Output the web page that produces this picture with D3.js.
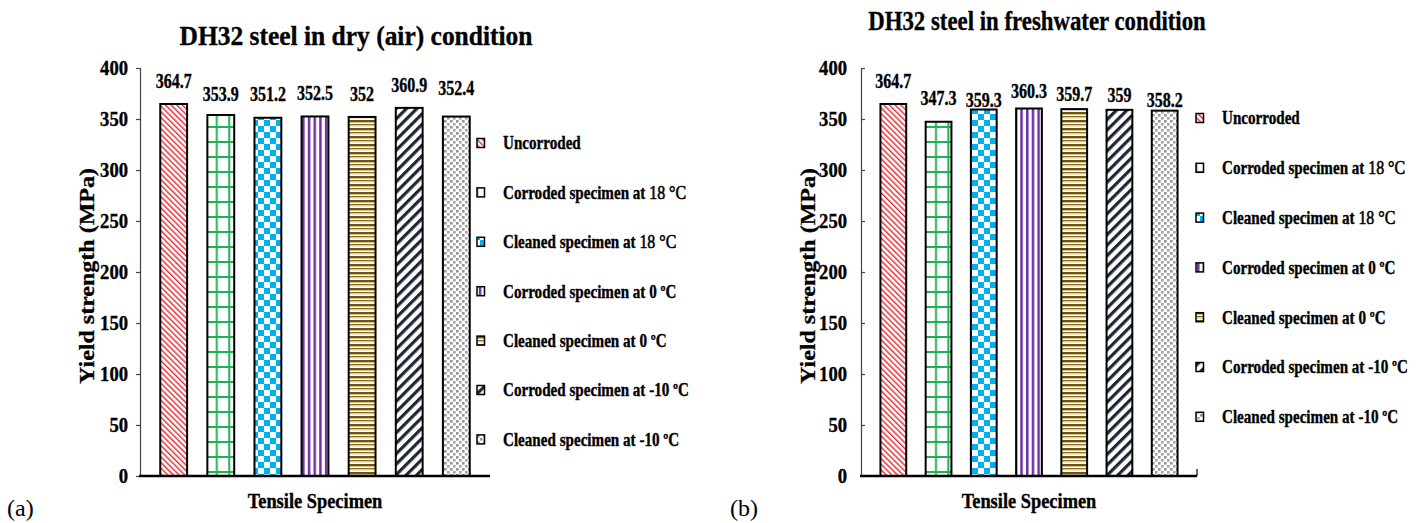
<!DOCTYPE html>
<html>
<head>
<meta charset="utf-8">
<script src="https://cdn.jsdelivr.net/npm/d3@7/dist/d3.min.js"></script>
<style>
  html, body { margin: 0; padding: 0; background: #fff; }
  svg { display: block; }
  text { font-family: "Liberation Serif", "Times New Roman", serif; fill: #000; }
  text.heavy { stroke: #000; stroke-width: 0.35px; }
</style>
</head>
<body>
<svg id="chart" width="1418" height="523"></svg>
<script>
// ---- data ----
const categories = [
  "Uncorroded",
  "Corroded specimen at 18 °C",
  "Cleaned specimen at 18 °C",
  "Corroded specimen at 0 ºC",
  "Cleaned specimen at 0 ºC",
  "Corroded specimen at -10 ºC",
  "Cleaned specimen at -10 ºC"
];
const dryValues   = [364.7, 353.9, 351.2, 352.5, 352, 360.9, 352.4];
const freshValues = [364.7, 347.3, 359.3, 360.3, 359.7, 359, 358.2];
const yTicks = [0, 50, 100, 150, 200, 250, 300, 350, 400];
const panelTitles = ["DH32 steel in dry (air) condition", "DH32 steel in freshwater condition"];
const panelTags = ["(a)", "(b)"];
const yAxisTitle = "Yield strength (MPa)";
const xAxisTitle = "Tensile Specimen";

// ---- layout of the two panels ----
const panels = [
  { values: dryValues, title: panelTitles[0], tag: panelTags[0],
    x0: 140, x1: 490, yBase: 476, yTop: 68,
    titleX: 356, titleY: 45, titleSx: 0.91, tickLabelX: 128, tickDir: 1, yTitleX: 94,
    legMarkX: 477, legTextX: 503, legY0: 143, legStep: 49.4,
    xTitleX: 315, tagX: 7, endTick: false,
    labelLift: [16, 14, 17, 16, 16, 16, 22] },
  { values: freshValues, title: panelTitles[1], tag: panelTags[1],
    x0: 861, x1: 1197, yBase: 476, yTop: 68,
    titleX: 1037, titleY: 30, titleSx: 0.815, tickLabelX: 847, tickDir: -1, yTitleX: 815,
    legMarkX: 1196, legTextX: 1222, legY0: 118, legStep: 49.8,
    xTitleX: 1029, tagX: 730, endTick: true,
    labelLift: [16, 17, 3, 10, 8, 8, 4] }
];

const svg = d3.select("#chart");
svg.append("rect").attr("width", 1418).attr("height", 523).attr("fill", "#fff");

// ---- fill patterns, one per specimen type ----
const defs = svg.append("defs");
function pat(id, w, h, transform) {
  const p = defs.append("pattern").attr("id", id)
    .attr("patternUnits", "userSpaceOnUse").attr("width", w).attr("height", h);
  if (transform) p.attr("patternTransform", transform);
  p.append("rect").attr("width", w).attr("height", h).attr("fill", "#fff");
  return p;
}
// red thin diagonals
let p = pat("p0", 8, 4, "rotate(45)");
p.append("rect").attr("x", 0).attr("y", 0.6).attr("width", 8).attr("height", 1.3).attr("fill", "#e3161e");
// green grid
p = pat("p1", 12.4, 15);
p.append("rect").attr("x", 5).attr("y", 0).attr("width", 2).attr("height", 15).attr("fill", "#1fb155");
p.append("rect").attr("x", 0).attr("y", 6).attr("width", 12.4).attr("height", 2).attr("fill", "#1fb155");
// blue checkerboard
p = pat("p2", 12, 12);
p.append("rect").attr("x", 0).attr("y", 0).attr("width", 6).attr("height", 6).attr("fill", "#00b0f0");
p.append("rect").attr("x", 6).attr("y", 6).attr("width", 6).attr("height", 6).attr("fill", "#00b0f0");
// purple vertical stripes
p = pat("p3", 5.7, 10);
p.append("rect").attr("x", 0).attr("width", 2.5).attr("height", 10).attr("fill", "#7030a0");
// olive horizontal stripes
p = pat("p4", 10, 8);
[[0, 2, "#6e5412"], [2, 1, "#d5c491"], [4, 1.5, "#8c7224"], [5.5, 1, "#e4d9b8"]].forEach(([y, h, c]) =>
  p.append("rect").attr("y", y).attr("width", 10).attr("height", h).attr("fill", c));
// dark navy wide diagonals
p = pat("p5", 10, 7.4, "rotate(-45)");
p.append("rect").attr("y", 0).attr("width", 10).attr("height", 3.2).attr("fill", "#1e2633");
// grey dots
p = pat("p6", 6, 6);
p.append("rect").attr("x", 0).attr("y", 0).attr("width", 2.6).attr("height", 2.6).attr("fill", "#949494");
p.append("rect").attr("x", 3).attr("y", 3).attr("width", 2.6).attr("height", 2.6).attr("fill", "#a4a4a4");

// horizontally compressed text helper
function txt(g, x, y, s, o) {
  const t = g.append("text")
    .attr("transform", `translate(${x},${y}) rotate(${o.rot || 0}) scale(${o.sx || 1},${o.sy || 1})`)
    .attr("text-anchor", o.anchor || "middle")
    .attr("class", o.weight === "normal" ? null : "heavy")
    .style("font-size", o.size + "px")
    .style("font-weight", o.weight || "bold")
    .text(s);
  if (o.dy) t.attr("dy", o.dy);
  return t;
}

panels.forEach(P => {
  const g = svg.append("g");
  const x = d3.scaleBand().domain(categories).range([P.x0, P.x1]).padding(0.43);
  const y = d3.scaleLinear().domain([0, 400]).range([P.yBase, P.yTop]);

  // title
  txt(g, P.titleX, P.titleY, P.title, { size: 28, sx: P.titleSx });

  // y axis
  const ya = g.append("g").attr("transform", `translate(${P.x0},0)`)
    .call(d3.axisLeft(y).tickValues(yTicks).tickSize(4 * P.tickDir).tickFormat(""));
  ya.select(".domain").attr("stroke", "#444").attr("stroke-width", 1.2);
  ya.selectAll(".tick line").attr("stroke", "#444").attr("stroke-width", 1.2)
    .attr("x2", -4 * P.tickDir);
  yTicks.forEach(v => txt(g, P.tickLabelX, y(v), String(v),
    { size: 20, sx: 0.93, anchor: "end", dy: "0.35em" }));

  // y axis title
  txt(g, P.yTitleX, (P.yBase + P.yTop) / 2 + 4, yAxisTitle, { size: 24, rot: -90, sy: 0.83 });

  // bars
  g.selectAll("rect.bar").data(P.values).join("rect").attr("class", "bar")
    .attr("x", (d, i) => x(categories[i]))
    .attr("y", d => y(d))
    .attr("width", x.bandwidth())
    .attr("height", d => y(0) - y(d))
    .attr("fill", (d, i) => `url(#p${i})`)
    .attr("stroke", "#000").attr("stroke-width", 2);

  // value labels
  P.values.forEach((v, i) => txt(g, x(categories[i]) + x.bandwidth() / 2, y(v) - P.labelLift[i],
    String(v), { size: 20, sx: 0.8 }));

  // x axis line
  g.append("line").attr("x1", P.x0 - 1).attr("x2", P.x1).attr("y1", P.yBase).attr("y2", P.yBase)
    .attr("stroke", "#000").attr("stroke-width", 2.5);
  if (P.endTick)
    g.append("line").attr("x1", P.x1).attr("x2", P.x1).attr("y1", P.yBase).attr("y2", P.yBase - 7)
      .attr("stroke", "#000").attr("stroke-width", 1.2);

  txt(g, P.xTitleX, 508, xAxisTitle, { size: 20, sx: 0.92 });

  // legend
  categories.forEach((c, i) => {
    const cy = P.legY0 + i * P.legStep;
    g.append("rect").attr("x", P.legMarkX).attr("y", cy - 4.5).attr("width", 7.5).attr("height", 9)
      .attr("fill", `url(#p${i})`).attr("stroke", "#000").attr("stroke-width", 1.5);
    const m = c.match(/^(.* at )(18 °C)$/);
    const t = txt(g, P.legTextX, cy, m ? m[1] : c, { size: 18, sx: 0.84, anchor: "start", dy: "0.35em" });
    if (m) t.append("tspan").style("font-weight", "normal").style("font-size", "19px")
      .attr("stroke-width", 0.6).text(m[2]);
  });

  // panel tag
  txt(g, P.tagX, 516, P.tag, { size: 24, weight: "normal", anchor: "start" });
});
</script>
</body>
</html>
